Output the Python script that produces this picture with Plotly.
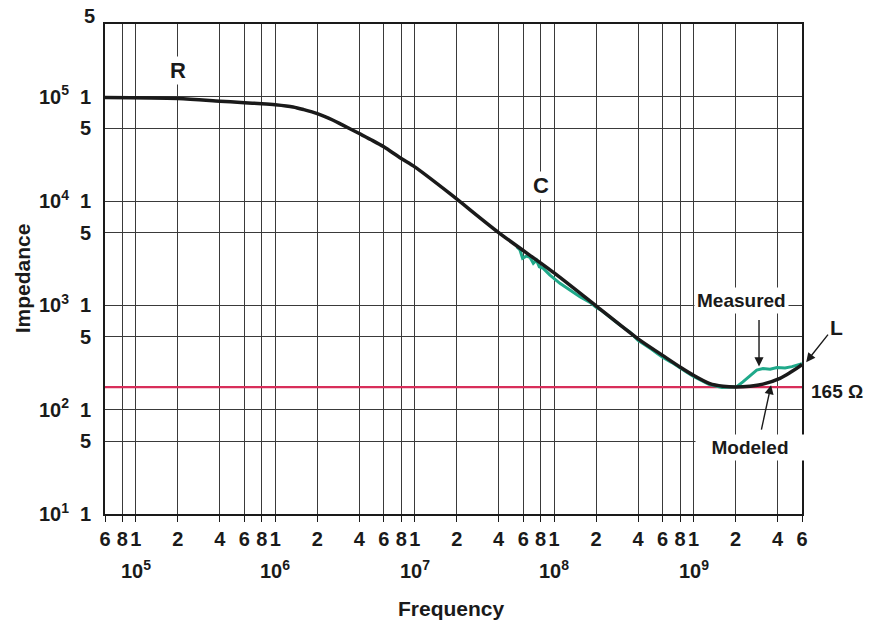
import numpy as np
import plotly.graph_objects as go

# ---- data -------------------------------------------------------------
# Modeled impedance magnitude (ohms) versus frequency (Hz)
model_freq = [6e4, 2e5, 4e5, 6e5, 8e5, 1e6, 1.34e6, 1.6e6, 2e6, 2.6e6, 3e6,
              4e6, 5e6, 6e6, 8e6, 1e7, 1.79e7, 4e7, 1e8, 2e8, 4e8, 6e8, 8e8,
              1e9, 1.31e9, 1.63e9, 2e9, 2.54e9, 3.15e9, 4.17e9, 5e9, 5.8e9,
              6e9]
model_imp = [98500, 96300, 91000, 88000, 86000, 84000, 80000, 75500, 69200,
             59700, 54200, 44500, 38100, 33200, 25600, 21300, 11800, 5000,
             2050, 990, 478, 332, 257, 214, 178, 168, 165, 168, 176, 200, 230,
             262, 272]

# Measured impedance magnitude (ohms) versus frequency (Hz)
meas_freq = [5.39e7, 5.69e7, 5.94e7, 6.35e7, 6.71e7, 7.09e7, 7.47e7, 7.83e7,
             8.36e7, 9.34e7, 1.10e8, 1.30e8, 1.53e8, 1.81e8, 2.0e8, 2.2e8,
             2.5e8, 2.8e8, 3.0e8, 3.5e8, 4.0e8, 4.5e8, 5.0e8, 5.5e8, 6.0e8,
             7.0e8, 8.0e8, 9.0e8, 1.0e9, 1.3e9, 1.6e9, 2.04e9, 2.26e9, 2.54e9,
             2.84e9, 3.15e9, 3.54e9, 3.97e9, 4.53e9, 5.08e9, 5.8e9, 6e9]
meas_imp = [3656, 3398, 2831, 2978, 2900, 2535, 2723, 2350, 2268, 1956, 1629,
            1406, 1211, 1071, 960, 890, 770, 690, 640, 555, 462, 418, 380, 345,
            318, 283, 250, 228, 209, 174, 163, 166, 185, 213, 240, 248, 245,
            254, 251, 259, 270, 276]

# Reference level
ref_level = 165
ref_freq = [6e4, 6e9]

# Axis ticks
x_tickvals = [6e4, 8e4,
              1e5, 2e5, 4e5, 6e5, 8e5,
              1e6, 2e6, 4e6, 6e6, 8e6,
              1e7, 2e7, 4e7, 6e7, 8e7,
              1e8, 2e8, 4e8, 6e8, 8e8,
              1e9, 2e9, 4e9, 6e9]
x_ticktext = ["6", "8",
              "1", "2", "4", "6", "8",
              "1", "2", "4", "6", "8",
              "1", "2", "4", "6", "8",
              "1", "2", "4", "6", "8",
              "1", "2", "4", "6"]
decade_vals = [1e5, 1e6, 1e7, 1e8, 1e9]
decade_text = ["10<sup>5</sup>", "10<sup>6</sup>", "10<sup>7</sup>",
               "10<sup>8</sup>", "10<sup>9</sup>"]

y_tickvals = [10, 50, 100, 500, 1e3, 5e3, 1e4, 5e4, 1e5, 5e5]
y_ticktext = ["10<sup>1</sup>\u00a0\u00a01", "5",
              "10<sup>2</sup>\u00a0\u00a01", "5",
              "10<sup>3</sup>\u00a0\u00a01", "5",
              "10<sup>4</sup>\u00a0\u00a01", "5",
              "10<sup>5</sup>\u00a0\u00a01", ""]

# ---- styling ----------------------------------------------------------
FAMILY = "Liberation Sans, Arial, Helvetica, sans-serif"
BLACK = "#1a1a1a"
GREEN = "#1fa98a"
RED = "#d82e5a"
GRID = "#3a3a3a"


def font(size, color=BLACK):
    return dict(family=FAMILY, size=size, color=color, weight="bold")


fig = go.Figure()

fig.add_trace(go.Scatter(
    x=ref_freq, y=[ref_level, ref_level], mode="lines",
    line=dict(color=RED, width=2.2), hoverinfo="skip", showlegend=False))

fig.add_trace(go.Scatter(
    x=meas_freq, y=meas_imp, mode="lines",
    line=dict(color=GREEN, width=3), hoverinfo="skip", showlegend=False))

fig.add_trace(go.Scatter(
    x=model_freq, y=model_imp, mode="lines",
    line=dict(color=BLACK, width=3.5, shape="spline", smoothing=0.8),
    hoverinfo="skip", showlegend=False))

fig.update_xaxes(
    type="log",
    range=[np.log10(6e4), np.log10(6e9)],
    tickmode="array", tickvals=x_tickvals, ticktext=x_ticktext,
    tickfont=font(20),
    ticks="outside", ticklen=6, tickwidth=1.3, tickcolor=BLACK,
    ticklabelstandoff=0,
    showgrid=True, gridcolor=GRID, gridwidth=1.3,
    showline=True, linecolor=BLACK, linewidth=1.6, mirror=True,
    zeroline=False,
)
fig.update_yaxes(
    type="log",
    range=[1, np.log10(5e5)],
    tickmode="array", tickvals=y_tickvals, ticktext=y_ticktext,
    tickfont=font(20),
    ticks="", ticklabelstandoff=8,
    showgrid=True, gridcolor=GRID, gridwidth=1.3,
    showline=True, linecolor=BLACK, linewidth=1.6, mirror=True,
    zeroline=False,
)

ann = []

# decade row under the x tick digits
for v, t in zip(decade_vals, decade_text):
    ann.append(dict(x=np.log10(v), y=-0.114, xref="x", yref="paper",
                    text=t, showarrow=False, font=font(20),
                    xanchor="center", yanchor="middle"))

# top "5" of the impedance scale, lifted clear of the frame
ann.append(dict(x=0, y=np.log10(5e5), xref="paper", yref="y", text="5",
                showarrow=False, font=font(20), xanchor="right",
                yanchor="middle", xshift=-8, yshift=8))

# axis titles
ann.append(dict(x=0.497, y=-0.192, xref="paper", yref="paper",
                text="Frequency", showarrow=False, font=font(21),
                xanchor="center", yanchor="middle"))
ann.append(dict(x=-0.119, y=0.481, xref="paper", yref="paper",
                text="Impedance", showarrow=False, font=font(21),
                textangle=-90, xanchor="center", yanchor="middle"))

# region labels
ann.append(dict(x=np.log10(2e5), y=np.log10(1.81e5), text="R",
                showarrow=False, font=font(22), bgcolor="white", borderpad=1))
ann.append(dict(x=np.log10(8e7), y=np.log10(1.4e4), text="C",
                showarrow=False, font=font(22), bgcolor="white", borderpad=1))
ann.append(dict(x=1.049, y=np.log10(621), xref="paper", text="L",
                showarrow=False, font=font(21),
                xanchor="center", yanchor="middle"))
ann.append(dict(x=1.050, y=np.log10(148), xref="paper", text="165 \u03a9",
                showarrow=False, font=font(19),
                xanchor="center", yanchor="middle"))

# curve callouts
ann.append(dict(x=np.log10(2.22e9), y=np.log10(1127), text="Measured",
                showarrow=False, font=font(19), bgcolor="white", borderpad=2))
ann.append(dict(x=np.log10(2.54e9), y=np.log10(43.9), text="Modeled",
                showarrow=False, font=font(19), bgcolor="white", borderpad=2,
                width=104))

arrow = dict(text="", showarrow=True, arrowhead=2, arrowsize=1.3,
             arrowwidth=1.4, arrowcolor=BLACK, axref="pixel", ayref="pixel")
ann.append(dict(arrow, x=np.log10(2.95e9), y=np.log10(260), ax=0, ay=-48))
ann.append(dict(arrow, x=np.log10(3.6e9), y=np.log10(172), ax=-10, ay=46))
ann.append(dict(arrow, x=1.006, xref="paper", y=np.log10(286), ax=23, ay=-29))

for a in ann:
    a.setdefault("xref", "x")
    a.setdefault("yref", "y")

fig.update_layout(
    width=876, height=624,
    margin=dict(l=105, r=74, t=24, b=110),
    paper_bgcolor="white", plot_bgcolor="white",
    annotations=ann,
    showlegend=False,
    hovermode=False,
)

fig.write_html("out.html", config={"displayModeBar": False})
